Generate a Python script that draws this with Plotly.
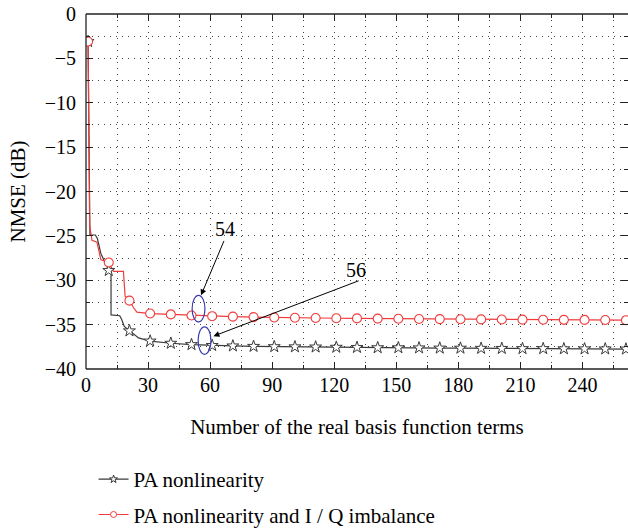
import plotly.graph_objects as go

# ---- data ----
marker_x = [1, 11, 21, 31, 41, 51, 61, 71, 81, 91, 101, 111, 121, 131, 141,
            151, 161, 171, 181, 191, 201, 211, 221, 231, 241, 251, 261]
pa_marker_y = [-3.1, -28.9, -35.7, -36.85, -37.1, -37.25, -37.35, -37.4, -37.45,
               -37.48, -37.5, -37.52, -37.55, -37.57, -37.6, -37.6, -37.62, -37.64,
               -37.65, -37.67, -37.68, -37.7, -37.7, -37.72, -37.73, -37.74, -37.75]
iq_marker_y = [-3.1, -28.0, -32.3, -33.75, -33.85, -33.97, -34.05, -34.1, -34.15,
               -34.2, -34.22, -34.25, -34.28, -34.3, -34.32, -34.34, -34.36, -34.38,
               -34.4, -34.41, -34.42, -34.44, -34.45, -34.46, -34.47, -34.48, -34.5]
# intermediate vertices of the curves between the markers (early steps)
pa_step_x = [1.9, 4.5, 5.5, 7.2, 12.1, 12.1, 16.3, 17.2, 18.5, 25.4]
pa_step_y = [-24.9, -24.9, -25.3, -27.0, -29.0, -33.9, -34.0, -34.4, -35.2, -36.5]
iq_step_x = [1.75, 2.9, 5.3, 7.2, 13.3, 18.1, 18.9, 23.0, 24.6]
iq_step_y = [-23.8, -25.5, -25.7, -27.7, -29.0, -29.0, -31.8, -33.1, -33.6]

x_ticks = [0, 30, 60, 90, 120, 150, 180, 210, 240]
y_ticks = [0, -5, -10, -15, -20, -25, -30, -35, -40]
series_names = ["PA nonlinearity", "PA nonlinearity and I / Q imbalance"]
callout_labels = ["54", "56"]
x_title = "Number of the real basis function terms"
y_title = "NMSE (dB)"


def merge(mx, my, sx, sy):
    pts = sorted(list(zip(mx, my)) + list(zip(sx, sy)), key=lambda p: p[0])
    return [p[0] for p in pts], [p[1] for p in pts]


pa_line_x, pa_line_y = merge(marker_x, pa_marker_y, pa_step_x, pa_step_y)
iq_line_x, iq_line_y = merge(marker_x, iq_marker_y, iq_step_x, iq_step_y)

BLACK = "#3a3a3a"
RED = "#f03c3c"
BLUE = "#3b3bb0"
FONT = "Liberation Serif"

fig = go.Figure()

# curves
fig.add_trace(go.Scatter(x=pa_line_x, y=pa_line_y, mode="lines",
                         line=dict(color=BLACK, width=1.2), showlegend=False))
fig.add_trace(go.Scatter(x=iq_line_x, y=iq_line_y, mode="lines",
                         line=dict(color=RED, width=1.2), showlegend=False))
# markers
fig.add_trace(go.Scatter(x=marker_x, y=pa_marker_y, mode="markers",
                         marker=dict(symbol="star", size=9, color="white",
                                     line=dict(color=BLACK, width=1)),
                         showlegend=False))
fig.add_trace(go.Scatter(x=marker_x, y=iq_marker_y, mode="markers",
                         marker=dict(symbol="circle", size=9, color="white",
                                     line=dict(color=RED, width=1.1)),
                         showlegend=False))
# legend entries
fig.add_trace(go.Scatter(x=[None], y=[None], mode="lines+markers", name=series_names[0],
                         line=dict(color=BLACK, width=1.2),
                         marker=dict(symbol="star", size=6, color="white",
                                     line=dict(color=BLACK, width=1)),
                         legendgroup="a"))
fig.add_trace(go.Scatter(x=[None], y=[None], mode="lines+markers", name=series_names[1],
                         line=dict(color=RED, width=1.2),
                         marker=dict(symbol="circle", size=6, color="white",
                                     line=dict(color=RED, width=1)),
                         legendgroup="b"))

# ellipses
fig.add_shape(type="circle", xref="x", yref="y", x0=51.3, x1=57.5, y0=-34.7, y1=-31.7,
              line=dict(color=BLUE, width=1.2))
fig.add_shape(type="circle", xref="x", yref="y", x0=54.2, x1=60.4, y0=-38.35, y1=-35.25,
              line=dict(color=BLUE, width=1.2))
# axis frame lines (left, bottom, top)
for x0, y0, x1, y1 in [(0, 0, 0, 1), (0, 0, 1, 0), (0, 1, 1, 1)]:
    fig.add_shape(type="line", xref="paper", yref="paper", x0=x0, y0=y0, x1=x1, y1=y1,
                  line=dict(color="#222", width=1.3))

# callouts
fig.add_annotation(x=55.6, y=-31.7, ax=67, ay=-25.4, xref="x", yref="y",
                   axref="x", ayref="y", text="", showarrow=True,
                   arrowhead=2, arrowsize=1.2, arrowwidth=1, arrowcolor="black")
fig.add_annotation(x=61.6, y=-36.3, ax=132.5, ay=-30.0, xref="x", yref="y",
                   axref="x", ayref="y", text="", showarrow=True,
                   arrowhead=2, arrowsize=1.2, arrowwidth=1, arrowcolor="black")
fig.add_annotation(x=67.3, y=-24.2, text=callout_labels[0], showarrow=False,
                   font=dict(family=FONT, size=20, color="black"))
fig.add_annotation(x=130.6, y=-28.9, text=callout_labels[1], showarrow=False,
                   font=dict(family=FONT, size=20, color="black"))
# y-axis title
fig.add_annotation(x=-0.1255, y=0.5, xref="paper", yref="paper", text=y_title,
                   textangle=-90, showarrow=False, xanchor="center", yanchor="middle",
                   font=dict(family=FONT, size=21, color="black"))

axis_common = dict(
    showline=False, ticks="inside", mirror="ticks", tickcolor="#222",
    tickwidth=1, ticklen=7, zeroline=False, automargin=False,
    showgrid=True, gridcolor="#444", gridwidth=1, griddash="1px,5px",
    tickfont=dict(family=FONT, size=20, color="black"),
)

fig.update_xaxes(range=[0, 262], tickvals=x_ticks, ticktext=[str(v) for v in x_ticks],
                 minor=dict(dtick=15, tick0=0, ticks="inside", ticklen=4, tickcolor="#222",
                            showgrid=True, gridcolor="#444", griddash="1px,5px"),
                 title=dict(text=x_title,
                            font=dict(family=FONT, size=21, color="black"), standoff=24),
                 ticklabelstandoff=2,
                 **axis_common)
fig.update_yaxes(range=[-40, 0], tickvals=y_ticks,
                 minor=dict(dtick=2.5, tick0=0, ticks="inside", ticklen=4, tickcolor="#222",
                            showgrid=True, gridcolor="#444", griddash="1px,5px"),
                 ticklabelstandoff=9,
                 **axis_common)

fig.update_layout(
    width=628, height=531,
    margin=dict(l=86, r=0, t=14, b=162, autoexpand=False),
    plot_bgcolor="white", paper_bgcolor="white",
    font=dict(family=FONT, color="black"),
    legend=dict(xref="container", yref="container", x=0.149, y=0.1355,
                xanchor="left", yanchor="top",
                orientation="v", tracegroupgap=5, traceorder="grouped",
                font=dict(family=FONT, size=21, color="black"),
                bgcolor="rgba(0,0,0,0)"),
)

fig.write_html("out.html")
